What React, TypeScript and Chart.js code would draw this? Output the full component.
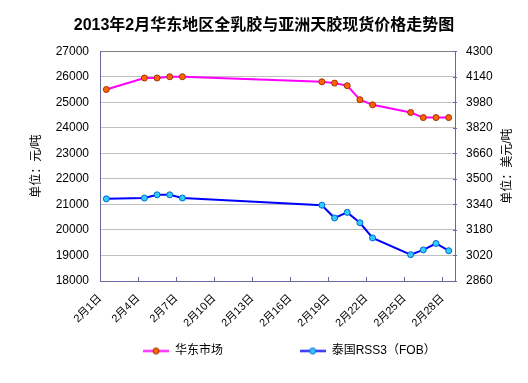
import React, { useEffect, useRef } from "react";
import { Chart, registerables } from "chart.js";

Chart.register(...registerables);

const titleText = "2013年2月华东地区全乳胶与亚洲天胶现货价格走势图";
const seriesNames = ["华东市场", "泰国RSS3（FOB）"];
const leftAxisTitle = "单位：元/吨";
const rightAxisTitle = "单位：美元/吨";

// day of February 2013
const days = [1, 4, 5, 6, 7, 18, 19, 20, 21, 22, 25, 26, 27, 28];
const huadongPrices = [25500, 25950, 25950, 26000, 26000, 25800, 25750, 25650, 25100, 24900, 24600, 24400, 24400, 24400];
const thaiPrices = [3375, 3380, 3400, 3400, 3380, 3335, 3255, 3290, 3225, 3130, 3025, 3055, 3095, 3050];
const tickDays = [1, 4, 7, 10, 13, 16, 19, 22, 25, 28];

const FONT = "'Liberation Sans', 'Noto Sans CJK SC', sans-serif";
const AXIS_COLOR = "#6868a0";
const legendPads = ["\u3000\u3000\u3000\u3000\u3000  ", "\u3000 "];

function makeSample(line: string, fill: string, border: string) {
  const c = document.createElement("canvas");
  c.width = 26;
  c.height = 9;
  const g = c.getContext("2d")!;
  g.strokeStyle = line;
  g.lineWidth = 2;
  g.beginPath();
  g.moveTo(0, 4.5);
  g.lineTo(26, 4.5);
  g.stroke();
  g.fillStyle = fill;
  g.strokeStyle = border;
  g.lineWidth = 1;
  g.beginPath();
  g.arc(13, 4.5, 3, 0, Math.PI * 2);
  g.fill();
  g.stroke();
  return c;
}

export default function App() {
  const ref = useRef<HTMLCanvasElement | null>(null);
  useEffect(() => {
    document.body.style.margin = "0";
    const samples = [
      makeSample("#ff00ff", "#ff6600", "#a03000"),
      makeSample("#0000ff", "#33ccff", "#0066cc"),
    ];
    const tickMarks = {
      id: "tickMarks",
      afterDatasetsDraw(chart: any) {
        const x = chart.scales.x;
        const y1 = chart.scales.y1;
        const a = chart.chartArea;
        const ctx = chart.ctx;
        ctx.save();
        ctx.strokeStyle = AXIS_COLOR;
        ctx.lineWidth = 1;
        const vals = tickDays.map((d) => d - 0.5).concat([28.5]);
        vals.forEach((v) => {
          const px = Math.round(x.getPixelForValue(v)) + 0.5;
          ctx.beginPath();
          ctx.moveTo(px, a.bottom);
          ctx.lineTo(px, a.bottom - 4);
          ctx.stroke();
        });
        y1.ticks.forEach((t: any) => {
          const py = Math.round(y1.getPixelForValue(t.value)) + 0.5;
          ctx.beginPath();
          ctx.moveTo(a.right - 2, py);
          ctx.lineTo(a.right + 2, py);
          ctx.stroke();
        });
        ctx.restore();
      },
    };
    const rightTitle = {
      id: "rightTitle",
      afterDraw(chart: any) {
        const ctx = chart.ctx;
        const a = chart.chartArea;
        ctx.save();
        ctx.translate(508, (a.top + a.bottom) / 2);
        ctx.rotate(-Math.PI / 2);
        ctx.font = `12px ${FONT}`;
        ctx.fillStyle = "#000";
        ctx.textAlign = "center";
        ctx.textBaseline = "middle";
        ctx.fillText(rightAxisTitle, 0, 0);
        ctx.restore();
      },
    };
    const chart = new Chart(ref.current!, {
      type: "line",
      data: {
        datasets: [
          {
            label: seriesNames[0],
            data: days.map((d, i) => ({ x: d, y: huadongPrices[i] })),
            borderColor: "#ff00ff",
            backgroundColor: "#ff6600",
            pointBackgroundColor: "#ff6600",
            pointBorderColor: "#a03000",
            pointRadius: 3,
            pointBorderWidth: 1,
            borderWidth: 2,
            tension: 0,
            yAxisID: "y",
          },
          {
            label: seriesNames[1],
            data: days.map((d, i) => ({ x: d, y: thaiPrices[i] })),
            borderColor: "#0000ff",
            backgroundColor: "#33ccff",
            pointBackgroundColor: "#33ccff",
            pointBorderColor: "#0066cc",
            pointRadius: 3,
            pointBorderWidth: 1,
            borderWidth: 2,
            tension: 0,
            yAxisID: "y1",
          },
        ],
      },
      options: {
        responsive: false,
        animation: false,
        layout: { padding: { top: 0, left: 0, right: 0, bottom: 16 } },
        font: { family: FONT },
        scales: {
          x: {
            type: "linear",
            min: 0.5,
            max: 28.5,
            afterBuildTicks: (s: any) => {
              s.ticks = tickDays.map((d) => ({ value: d - 0.5 }));
            },
            afterFit: (s: any) => {
              s.height = 54;
            },
            grid: { display: false },
            border: { display: true, color: AXIS_COLOR, width: 1 },
            ticks: {
              autoSkip: false,
              minRotation: 45,
              maxRotation: 45,
              padding: 3,
              color: "#000",
              font: { size: 11, family: FONT },
              callback: (v: any) => `2月${Math.round(Number(v) + 0.5)}日`,
            },
          },
          y: {
            type: "linear",
            position: "left",
            min: 18000,
            max: 27000,
            afterFit: (s: any) => {
              s.width = 100;
            },
            grid: {
              drawTicks: false,
              color: (c: any) => (c.tick && c.tick.value === 27000 ? "#808080" : "#c0c0c0"),
            },
            border: { color: AXIS_COLOR, width: 1 },
            ticks: {
              stepSize: 1000,
              padding: 11,
              color: "#000",
              font: { size: 12, family: FONT },
              callback: (v: any) => String(v),
            },
            title: {
              display: true,
              text: leftAxisTitle,
              color: "#000",
              font: { size: 12, family: FONT },
              padding: { top: 29, bottom: 0 },
            },
          },
          y1: {
            type: "linear",
            position: "right",
            min: 2860,
            max: 4300,
            afterFit: (s: any) => {
              s.width = 73;
            },
            grid: { drawOnChartArea: false, drawTicks: false },
            border: { color: AXIS_COLOR, width: 1 },
            ticks: {
              stepSize: 160,
              padding: 11,
              color: "#000",
              font: { size: 12, family: FONT },
              callback: (v: any) => String(v),
            },
          },
        },
        plugins: {
          title: {
            display: true,
            text: titleText,
            color: "#000",
            font: { size: 16, weight: "bold", family: FONT },
            padding: { top: 16, bottom: 16 },
          },
          legend: {
            position: "bottom",
            fullSize: false,
            align: "end",
            labels: {
              usePointStyle: true,
              pointStyleWidth: 26,
              padding: 10,
              color: "#000",
              font: { size: 12, family: FONT },
              generateLabels: (ch: any) => {
                const items = (Chart.defaults.plugins.legend.labels as any).generateLabels(ch);
                return items.map((it: any, i: number) => ({
                  ...it,
                  text: it.text + legendPads[i],
                  pointStyle: samples[i],
                }));
              },
            },
          },
          tooltip: { enabled: false },
        },
      },
      plugins: [tickMarks, rightTitle],
    } as any);
    return () => chart.destroy();
  }, []);
  return (
    <div style={{ width: 528, height: 383, background: "#fff" }}>
      <canvas ref={ref} width={528} height={383} style={{ display: "block" }} />
    </div>
  );
}
